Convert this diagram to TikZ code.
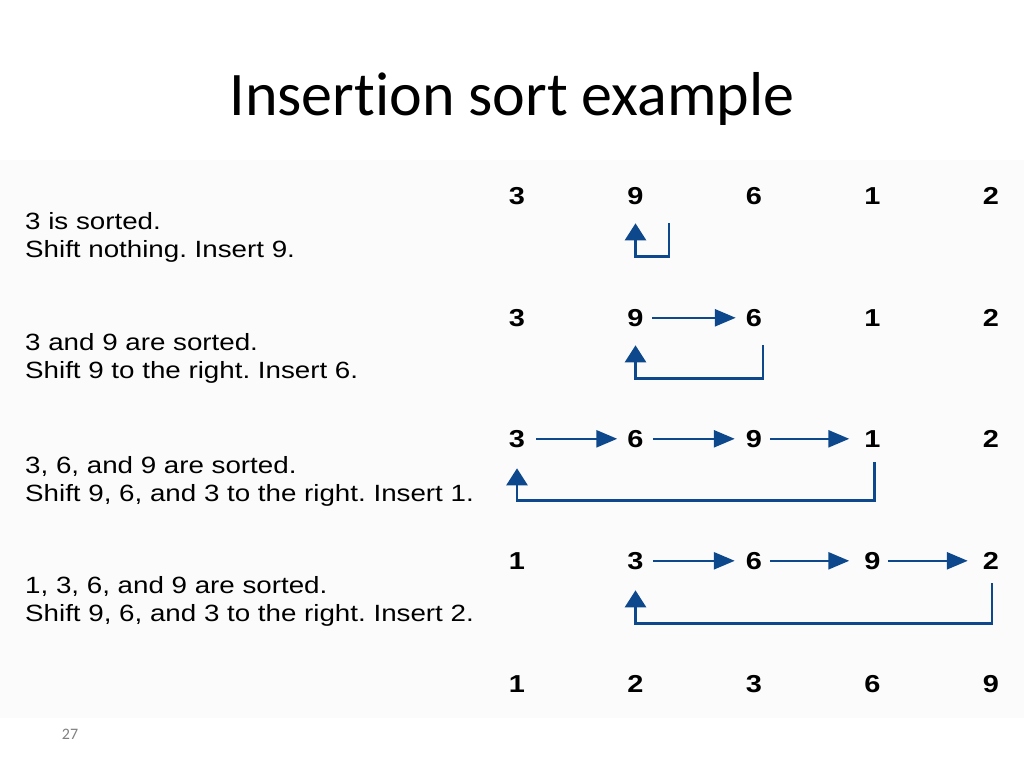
\documentclass[tikz,border=0pt]{standalone}
\usepackage{fontspec}
\setmainfont{Liberation Sans}
\newfontfamily\titlefont[Ligatures=NoCommon]{Carlito}
\newfontfamily\figfont[FakeStretch=1.18]{Liberation Sans}
\newfontfamily\numfont[FakeStretch=1.18]{Liberation Sans Bold}
\usetikzlibrary{arrows.meta}
\definecolor{arrowblue}{RGB}{14,72,140}
\definecolor{panelgray}{RGB}{251,251,251}
\tikzset{
  num/.style={inner sep=0pt, text height=18pt, text depth=0pt, font=\numfont\fontsize{24.5}{24.5}\selectfont},
  desc/.style={inner sep=0pt, anchor=base west, font=\figfont\fontsize{23.5}{28}\selectfont\frenchspacing},
  hshift/.style={draw=arrowblue, line width=2.6pt, -{Triangle[length=21pt,width=17pt]}},
  vback/.style={draw=arrowblue, line width=2.6pt, -{Triangle[length=17pt,width=21pt]}},
}
\begin{document}
\begin{tikzpicture}[x=1pt,y=-1pt]
\useasboundingbox (0,0) rectangle (1024,768);
\fill[white] (0,0) rectangle (1024,768);
\fill[panelgray] (0,160) rectangle (1024,718);
% title
\node[anchor=base, inner sep=0pt, font=\titlefont\fontsize{62}{62}\selectfont] (title) at (512,115) {Insertion sort example};
\node[anchor=base, inner sep=0pt, text=gray, font=\titlefont\fontsize{16}{16}\selectfont] (pagenum) at (70,739) {27};
% descriptions
\node[desc] (d1a) at (25,229.5) {3 is sorted.};
\node[desc] (d1b) at (25,257.5) {Shift nothing. Insert 9.};
\node[desc] (d2a) at (25,350) {3 and 9 are sorted.};
\node[desc] (d2b) at (25,378) {Shift 9 to the right. Insert 6.};
\node[desc] (d3a) at (25,473.5) {3, 6, and 9 are sorted.};
\node[desc] (d3b) at (25,501.5) {Shift 9, 6, and 3 to the right. Insert 1.};
\node[desc] (d4a) at (25,593) {1, 3, 6, and 9 are sorted.};
\node[desc] (d4b) at (25,621) {Shift 9, 6, and 3 to the right. Insert 2.};
% rows of numbers
\foreach \r/\y/\vals in {1/196/{3,9,6,1,2}, 2/318/{3,9,6,1,2}, 3/439/{3,6,9,1,2}, 4/561/{1,3,6,9,2}, 5/684/{1,2,3,6,9}} {
  \foreach \v [count=\c] in \vals {
    \pgfmathsetmacro\xx{517+118.5*(\c-1)}
    \pgfmathsetmacro\yy{\y+8.8}
    \node[num, anchor=base] (r\r c\c) at (\xx,\yy) {\v};
  }
}
% row 1 return
\coordinate (b1) at (669,223);
\draw[vback] (b1) |- ([yshift=-51.5pt]r1c2.base) -- ([yshift=-18.5pt]r1c2.base);
% row 2
\draw[hshift] ([xshift=8pt]r2c2.east) -- ([xshift=-10pt]r2c3.west);
\coordinate (b2) at (763,345);
\draw[vback] (b2) |- ([yshift=-51.5pt]r2c2.base) -- ([yshift=-18.5pt]r2c2.base);
% row 3
\draw[hshift] ([xshift=11pt]r3c1.east) -- ([xshift=-10pt]r3c2.west);
\draw[hshift] ([xshift=9pt]r3c2.east) -- ([xshift=-11pt]r3c3.west);
\draw[hshift] ([xshift=8pt]r3c3.east) -- ([xshift=-15pt]r3c4.west);
\draw[vback] ([xshift=2pt,yshift=-14.5pt]r3c4.base) |- ([yshift=-52.5pt]r3c1.base) -- ([yshift=-20.5pt]r3c1.base);
% row 4
\draw[hshift] ([xshift=9pt]r4c2.east) -- ([xshift=-11pt]r4c3.west);
\draw[hshift] ([xshift=8pt]r4c3.east) -- ([xshift=-15pt]r4c4.west);
\draw[hshift] ([xshift=7pt]r4c4.east) -- ([xshift=-15pt]r4c5.west);
\draw[vback] ([xshift=1pt,yshift=-13.5pt]r4c5.base) |- ([yshift=-53.5pt]r4c2.base) -- ([yshift=-20.5pt]r4c2.base);
\end{tikzpicture}
\end{document}
